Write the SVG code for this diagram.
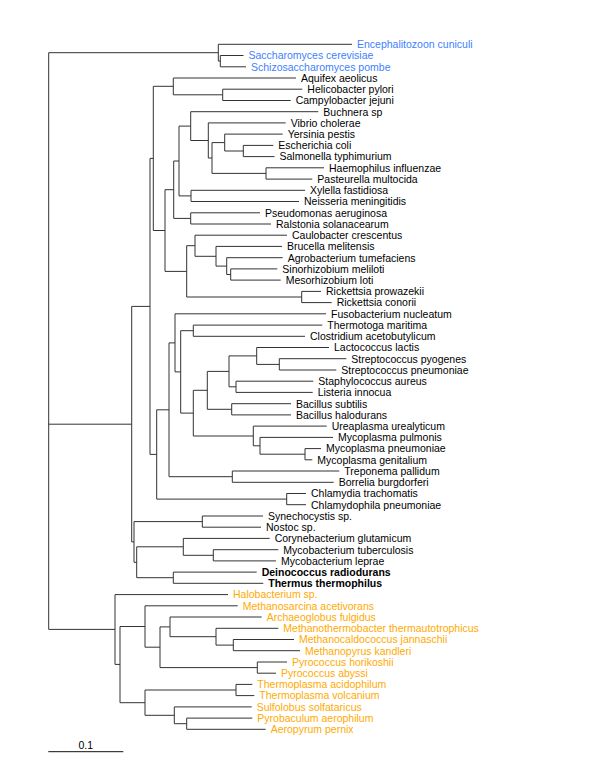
<svg xmlns="http://www.w3.org/2000/svg" width="600" height="776" viewBox="0 0 600 776">
<style>
text{font-family:"Liberation Sans",Arial,sans-serif;font-size:10.5px;fill:#000}
.e{fill:#4080ff}
.a{fill:#ffaa00}
.b{font-weight:bold}
#connectors path{fill:none;stroke:#333;stroke-width:1}
</style>
<rect width="600" height="776" fill="#fff"/>
<g id="connectors">
<path d="M48.7 52.7V629.4M48.7 52.7H218.3M48.7 424.2H131.7M48.7 629.4H115"/>
<path d="M218.3 44.3V61.1M218.3 44.3H352M218.3 61.1H220.3M220.3 55.5V66.8M220.3 55.5H243.5M220.3 66.8H246"/>
<path d="M131.7 306.4V541.9M131.7 306.4H150M131.7 541.9H134"/>
<path d="M150 158.4V454.4M150 158.4H153.3M150 454.4H156.7"/>
<path d="M153.3 86.3V230.5M153.3 86.3H173.3M153.3 230.5H165"/>
<path d="M173.3 78V94.8M173.3 78H296M173.3 94.8H222.7M222.7 89.2V100.5M222.7 89.2H302.3M222.7 100.5H290.7"/>
<path d="M165 189.7V271.4M165 189.7H173.7M165 271.4H186.7"/>
<path d="M173.7 161V218.4M173.7 161H179M173.7 218.4H190.7"/>
<path d="M179 126.1V195.9M179 126.1H190.7M179 195.9H191"/>
<path d="M190.7 111.7V140.5M190.7 111.7H318.3M190.7 140.5H208.3"/>
<path d="M208.3 122.9V158M208.3 122.9H285.7M208.3 158H212"/>
<path d="M212 142.6V173.4M212 142.6H224.7M212 173.4H266"/>
<path d="M224.7 134.1V151M224.7 134.1H282.7M224.7 151H243.3"/>
<path d="M243.3 145.4V156.6M243.3 145.4H273.3M243.3 156.6H274.5"/>
<path d="M266 167.8V179.1M266 167.8H324M266 179.1H312.3"/>
<path d="M191 190.3V201.5M191 190.3H305M191 201.5H299"/>
<path d="M190.7 212.8V224M190.7 212.8H260M190.7 224H271"/>
<path d="M186.7 245.7V297M186.7 245.7H195M186.7 297H301.7"/>
<path d="M195 235.2V256.3M195 235.2H287M195 256.3H216"/>
<path d="M216 246.4V266.1M216 246.4H282M216 266.1H226.7"/>
<path d="M226.7 257.7V274.5M226.7 257.7H282.7M226.7 274.5H230.7"/>
<path d="M230.7 268.9V280.1M230.7 268.9H277.3M230.7 280.1H280.7"/>
<path d="M301.7 291.4V302.6M301.7 291.4H321M301.7 302.6H331.7"/>
<path d="M156.7 409.8V499.1M156.7 409.8H169M156.7 499.1H286.7"/>
<path d="M169 342.9V476.7M169 342.9H175M169 476.7H232.3"/>
<path d="M175 313.8V371.9M175 313.8H326M175 371.9H180.7"/>
<path d="M180.7 330.7V413.1M180.7 330.7H193.3M180.7 413.1H193.3"/>
<path d="M193.3 325.1V336.3M193.3 325.1H322.3M193.3 336.3H305"/>
<path d="M193.3 390.3V436M193.3 390.3H207.3M193.3 436H253.3"/>
<path d="M207.3 371.4V409.3M207.3 371.4H229M207.3 409.3H231.7"/>
<path d="M229 355.9V386.8M229 355.9H256.7M229 386.8H236"/>
<path d="M256.7 347.5V364.4M256.7 347.5H329M256.7 364.4H279.3"/>
<path d="M279.3 358.7V370M279.3 358.7H346.3M279.3 370H336.3"/>
<path d="M236 381.2V392.4M236 381.2H313.3M236 392.4H312.7"/>
<path d="M231.7 403.7V414.9M231.7 403.7H291M231.7 414.9H291"/>
<path d="M253.3 426.1V445.8M253.3 426.1H326.7M253.3 445.8H260"/>
<path d="M260 437.4V454.2M260 437.4H333M260 454.2H305"/>
<path d="M305 448.6V459.8M305 448.6H321M305 459.8H312.3"/>
<path d="M232.3 471V482.3M232.3 471H339.3M232.3 482.3H333.7"/>
<path d="M286.7 493.5V504.7M286.7 493.5H306M286.7 504.7H306"/>
<path d="M134 521.6V562.3M134 521.6H202.3M134 562.3H136.7"/>
<path d="M202.3 516V527.2M202.3 516H263M202.3 527.2H261"/>
<path d="M136.7 546.8V577.7M136.7 546.8H183.3M136.7 577.7H173.3"/>
<path d="M183.3 538.4V555.3M183.3 538.4H269.7M183.3 555.3H213.3"/>
<path d="M213.3 549.7V560.9M213.3 549.7H278.3M213.3 560.9H276"/>
<path d="M173.3 572.1V583.3M173.3 572.1H256.7M173.3 583.3H263.3"/>
<path d="M115 594.6V664.4M115 594.6H228M115 664.4H120"/>
<path d="M120 626.5V702.7M120 626.5H145M120 702.7H145"/>
<path d="M145 605.8V647.2M145 605.8H237.7M145 647.2H160"/>
<path d="M160 626.9V667.6M160 626.9H170M160 667.6H257.3"/>
<path d="M170 617V636.7M170 617H261.7M170 636.7H216"/>
<path d="M216 628.3V645.1M216 628.3H278.3M216 645.1H233.3"/>
<path d="M233.3 639.5V650.7M233.3 639.5H294M233.3 650.7H300"/>
<path d="M257.3 662V673.2M257.3 662H287M257.3 673.2H276"/>
<path d="M145 690V715.3M145 690H236M145 715.3H174.3"/>
<path d="M236 684.4V695.6M236 684.4H252.3M236 695.6H254.3"/>
<path d="M174.3 706.9V723.7M174.3 706.9H251.7M174.3 723.7H186.7"/>
<path d="M186.7 718.1V729.3M186.7 718.1H252.3M186.7 729.3H265.7"/>
</g>
<g id="scale"><path d="M48.3 751.7H123.3" stroke="#111" stroke-width="1"/><text x="85.8" y="749" text-anchor="middle">0.1</text></g>
<g id="n1"><text class="e" x="357" y="48.1">Encephalitozoon cuniculi</text></g>
<g id="n2"><text class="e" x="248.5" y="59.3">Saccharomyces cerevisiae</text></g>
<g id="n3"><text class="e" x="251" y="70.6">Schizosaccharomyces pombe</text></g>
<g id="n4"><text x="301" y="81.8">Aquifex aeolicus</text></g>
<g id="n5"><text x="307.3" y="93">Helicobacter pylori</text></g>
<g id="n6"><text x="295.7" y="104.3">Campylobacter jejuni</text></g>
<g id="n7"><text x="323.3" y="115.5">Buchnera sp</text></g>
<g id="n8"><text x="290.7" y="126.7">Vibrio cholerae</text></g>
<g id="n9"><text x="287.7" y="137.9">Yersinia pestis</text></g>
<g id="n10"><text x="278.3" y="149.2">Escherichia coli</text></g>
<g id="n11"><text x="279.5" y="160.4">Salmonella typhimurium</text></g>
<g id="n12"><text x="329" y="171.6">Haemophilus influenzae</text></g>
<g id="n13"><text x="317.3" y="182.9">Pasteurella multocida</text></g>
<g id="n14"><text x="310" y="194.1">Xylella fastidiosa</text></g>
<g id="n15"><text x="304" y="205.3">Neisseria meningitidis</text></g>
<g id="n16"><text x="265" y="216.6">Pseudomonas aeruginosa</text></g>
<g id="n17"><text x="276" y="227.8">Ralstonia solanacearum</text></g>
<g id="n18"><text x="292" y="239">Caulobacter crescentus</text></g>
<g id="n19"><text x="287" y="250.2">Brucella melitensis</text></g>
<g id="n20"><text x="287.7" y="261.5">Agrobacterium tumefaciens</text></g>
<g id="n21"><text x="282.3" y="272.7">Sinorhizobium meliloti</text></g>
<g id="n22"><text x="285.7" y="283.9">Mesorhizobium loti</text></g>
<g id="n23"><text x="326" y="295.2">Rickettsia prowazekii</text></g>
<g id="n24"><text x="336.7" y="306.4">Rickettsia conorii</text></g>
<g id="n25"><text x="331" y="317.6">Fusobacterium nucleatum</text></g>
<g id="n26"><text x="327.3" y="328.9">Thermotoga maritima</text></g>
<g id="n27"><text x="310" y="340.1">Clostridium acetobutylicum</text></g>
<g id="n28"><text x="334" y="351.3">Lactococcus lactis</text></g>
<g id="n29"><text x="351.3" y="362.5">Streptococcus pyogenes</text></g>
<g id="n30"><text x="341.3" y="373.8">Streptococcus pneumoniae</text></g>
<g id="n31"><text x="318.3" y="385">Staphylococcus aureus</text></g>
<g id="n32"><text x="317.7" y="396.2">Listeria innocua</text></g>
<g id="n33"><text x="296" y="407.5">Bacillus subtilis</text></g>
<g id="n34"><text x="296" y="418.7">Bacillus halodurans</text></g>
<g id="n35"><text x="331.7" y="429.9">Ureaplasma urealyticum</text></g>
<g id="n36"><text x="338" y="441.2">Mycoplasma pulmonis</text></g>
<g id="n37"><text x="326" y="452.4">Mycoplasma pneumoniae</text></g>
<g id="n38"><text x="317.3" y="463.6">Mycoplasma genitalium</text></g>
<g id="n39"><text x="344.3" y="474.8">Treponema pallidum</text></g>
<g id="n40"><text x="338.7" y="486.1">Borrelia burgdorferi</text></g>
<g id="n41"><text x="311" y="497.3">Chlamydia trachomatis</text></g>
<g id="n42"><text x="311" y="508.5">Chlamydophila pneumoniae</text></g>
<g id="n43"><text x="268" y="519.8">Synechocystis sp.</text></g>
<g id="n44"><text x="266" y="531">Nostoc sp.</text></g>
<g id="n45"><text x="274.7" y="542.2">Corynebacterium glutamicum</text></g>
<g id="n46"><text x="283.3" y="553.5">Mycobacterium tuberculosis</text></g>
<g id="n47"><text x="281" y="564.7">Mycobacterium leprae</text></g>
<g id="n48"><text class="b" x="261.7" y="575.9">Deinococcus radiodurans</text></g>
<g id="n49"><text class="b" x="268.3" y="587.1">Thermus thermophilus</text></g>
<g id="n50"><text class="a" x="233" y="598.4">Halobacterium sp.</text></g>
<g id="n51"><text class="a" x="242.7" y="609.6">Methanosarcina acetivorans</text></g>
<g id="n52"><text class="a" x="266.7" y="620.8">Archaeoglobus fulgidus</text></g>
<g id="n53"><text class="a" x="283.3" y="632.1">Methanothermobacter thermautotrophicus</text></g>
<g id="n54"><text class="a" x="299" y="643.3">Methanocaldococcus jannaschii</text></g>
<g id="n55"><text class="a" x="305" y="654.5">Methanopyrus kandleri</text></g>
<g id="n56"><text class="a" x="292" y="665.8">Pyrococcus horikoshii</text></g>
<g id="n57"><text class="a" x="281" y="677">Pyrococcus abyssi</text></g>
<g id="n58"><text class="a" x="257.3" y="688.2">Thermoplasma acidophilum</text></g>
<g id="n59"><text class="a" x="259.3" y="699.4">Thermoplasma volcanium</text></g>
<g id="n60"><text class="a" x="256.7" y="710.7">Sulfolobus solfataricus</text></g>
<g id="n61"><text class="a" x="257.3" y="721.9">Pyrobaculum aerophilum</text></g>
<g id="n62"><text class="a" x="270.7" y="733.1">Aeropyrum pernix</text></g>
</svg>
